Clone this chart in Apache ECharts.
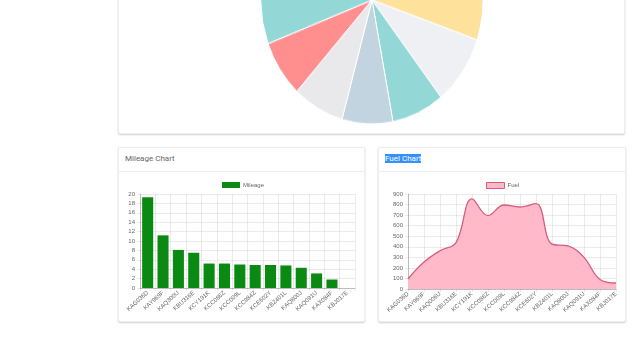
<!DOCTYPE html>
<html>
<head>
<meta charset="utf-8">
<script src="https://cdn.jsdelivr.net/npm/echarts@6/dist/echarts.min.js"></script>
<style>
  html, body { margin:0; padding:0; width:643px; height:341px; overflow:hidden; background:#fff; font-family: Roboto, "Liberation Sans", sans-serif; }
  .card { position:absolute; background:#fff; border:1px solid rgba(0,0,0,0.07); box-shadow:0 1px 2px rgba(0,0,0,0.18); box-sizing:border-box; border-radius:2px; }
  .hdr { position:absolute; left:0; right:0; top:0; height:23px; border-bottom:1px solid #eee; }
  .ttl { position:absolute; left:6px; top:6px; font-size:8px; line-height:10px; color:#666; }
  .sel { background:#3390ff; color:#fff; }
  #pie { position:absolute; left:0; top:0; width:643px; height:130px; transform:scaleY(1.117); transform-origin:0 0; z-index:2; }
  #main { position:absolute; left:0; top:0; width:643px; height:341px; z-index:3; }
</style>
</head>
<body>
<div class="card" style="left:118px; top:-20px; width:507px; height:154px;"></div>
<div class="card" style="left:118px; top:147px; width:247px; height:175px;">
  <div class="hdr"><div class="ttl">Mileage Chart</div></div>
</div>
<div class="card" style="left:378px; top:147px; width:248px; height:175px;">
  <div class="hdr"><div class="ttl"><span class="sel">Fuel Chart</span></div></div>
</div>
<div id="pie"></div>
<div id="main"></div>
<script>
// ---- data ----
var pieNames = ['KBZ401L','KAQ800J','KAG036D','KAY969F','KAQ300U','KBU316E','KCY191K','KCC086Z','KCC009L','KCC984Z','KCE602Y'];
var pieValues = [30, 30, 48.8, 32.8, 27.5, 26.6, 26.9, 26.8, 40, 35, 35.6];
var pieColors = ['#f3b6c4','#b9d7ee','#fee29b','#eff0f4','#93d8d6','#c1d4df','#e9e9eb','#ff8f8f','#93d8d6','#f6f6f6','#ffcf9f'];

var mileageCats = ['KAG036D','KAY969F','KAQ300U','KBU316E','KCY191K','KCC086Z','KCC009L','KCC984Z','KCE602Y','KBZ401L','KAQ800J','KAQ091U','KAX084F','KBJ017E'];
var mileageValues = [19.3, 11.2, 8.1, 7.5, 5.2, 5.2, 5.0, 4.9, 4.9, 4.8, 4.3, 3.1, 1.8, 0];
var mileageTicks = {min:0, max:20, interval:2};

var fuelCats = ['KAG036D','KAY969F','KAQ006U','KBU316E','KCY191K','KCC086Z','KCC009L','KCC984Z','KCE602Y','KBZ401L','KAQ800J','KAQ091U','KAX084F','KBJ017E'];
var fuelValues = [95, 255, 362, 440, 853, 695, 796, 777, 809, 425, 408, 300, 90, 57];
var fuelTicks = {min:0, max:900, interval:100};

// ---- pie ----
var pie = echarts.init(document.getElementById('pie'), null, {renderer:'canvas'});
pie.setOption({
  animation:false,
  series:[{
    type:'pie', center:[372,0], radius:111, startAngle:90, clockwise:true,
    label:{show:false}, labelLine:{show:false},
    itemStyle:{borderColor:'#fff', borderWidth:1},
    emphasis:{disabled:true},
    data: pieValues.map(function(v,i){ return {name:pieNames[i], value:v, itemStyle:{color:pieColors[i]}}; })
  }]
});

// ---- bar + line ----
var gridColor = 'rgba(0,0,0,0.08)';
var labelColor = '#666';
var fs = 6;
function xAx(idx, cats, gap){
  return {
    type:'category', gridIndex:idx, data:cats, boundaryGap:gap,
    axisLine:{lineStyle:{color:'rgba(0,0,0,0.2)'}},
    axisTick:{show:true, length:3, lineStyle:{color:gridColor}},
    axisLabel:{interval:0, rotate:42, fontSize:fs, color:labelColor, margin:4, fontFamily:'Liberation Sans'},
    splitLine:{show:true, lineStyle:{color:gridColor, width:1}}
  };
}
function yAx(idx, t){
  return {
    type:'value', gridIndex:idx, min:t.min, max:t.max, interval:t.interval,
    axisLine:{show:true, lineStyle:{color:'rgba(0,0,0,0.2)'}},
    axisTick:{show:true, length:3, lineStyle:{color:gridColor}},
    axisLabel:{fontSize:fs, color:labelColor, margin:5, fontFamily:'Liberation Sans'},
    splitLine:{show:true, lineStyle:{color:gridColor, width:1}}
  };
}
var chart = echarts.init(document.getElementById('main'), null, {renderer:'canvas'});
chart.setOption({
  animation:false,
  backgroundColor:'transparent',
  legend:[
    {left:222, top:182, itemWidth:18, itemHeight:6, itemGap:4, padding:0,
     textStyle:{fontSize:fs, color:labelColor, fontFamily:'Liberation Sans', padding:[0,0,0,-2]},
     data:[{name:'Mileage', icon:'rect'}]},
    {left:486, top:182, itemWidth:18, itemHeight:6, itemGap:4, padding:0,
     textStyle:{fontSize:fs, color:labelColor, fontFamily:'Liberation Sans', padding:[0,0,0,-2]},
     data:[{name:'Fuel', icon:'rect', itemStyle:{color:'#ffb9c9', borderColor:'#d65c7e', borderWidth:1}}]}
  ],
  grid:[
    {left:140, right:288, top:194, bottom:53},
    {left:408, right:27, top:194, bottom:52}
  ],
  xAxis:[xAx(0, mileageCats, true), xAx(1, fuelCats, false)],
  yAxis:[yAx(0, mileageTicks), yAx(1, fuelTicks)],
  series:[
    {name:'Mileage', type:'bar', xAxisIndex:0, yAxisIndex:0, data:mileageValues,
     barCategoryGap:'28%', itemStyle:{color:'#0a8a12'}},
    {name:'Fuel', type:'line', xAxisIndex:1, yAxisIndex:1, data:fuelValues,
     smooth:0.4, showSymbol:false, symbol:'none',
     lineStyle:{color:'#d65c7e', width:1.3},
     itemStyle:{color:'#ffb9c9', borderColor:'#d65c7e'},
     areaStyle:{color:'#ffb9c9', opacity:1}}
  ]
});
</script>
</body>
</html>
